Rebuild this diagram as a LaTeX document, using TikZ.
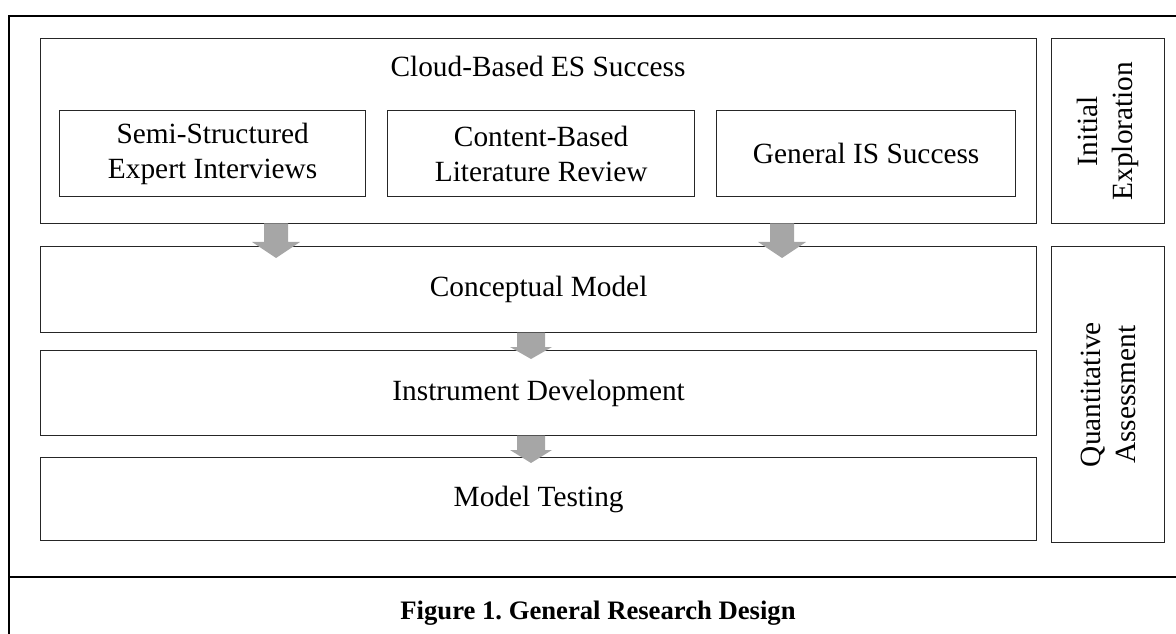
\documentclass[tikz,border=0pt]{standalone}
\usepackage{fontspec}
\setmainfont{Liberation Serif}
\frenchspacing
\begin{document}
\begin{tikzpicture}[x=0.75pt,y=-0.75pt,
  box/.style={draw=black!85, line width=0.95pt, inner sep=0pt, anchor=north west},
  lbl/.style={font=\fontsize{22}{26.4}\selectfont, align=center, inner sep=0pt},
  garrow/.style={fill=black!35, draw=none},
  frame/.style={draw=black, line width=1.6pt}]
\useasboundingbox (0,0) rectangle (1176,634);
% outer frame
\coordinate (fa) at (9,634);
\coordinate (fb) at (9,16);
\coordinate (fc) at (1176,16);
\coordinate (da) at (9,577);
\coordinate (db) at (1176,577);
\draw[frame] (fa) -- (fb) -- (fc);
\draw[frame] (da) -- (db);
% boxes
\node[box, minimum width=747pt, minimum height=138.75pt] (top) at (40,38) {};
\node[box, minimum width=84.75pt, minimum height=138.75pt] (ie) at (1051,38) {};
\node[box, minimum width=229.5pt, minimum height=64.5pt] (s1) at (59,110) {};
\node[box, minimum width=230.25pt, minimum height=64.5pt] (s2) at (387,110) {};
\node[box, minimum width=224.25pt, minimum height=64.5pt] (s3) at (716,110) {};
\node[box, minimum width=747pt, minimum height=64.5pt] (cm) at (40,246) {};
\node[box, minimum width=747pt, minimum height=63.75pt] (id) at (40,350) {};
\node[box, minimum width=747pt, minimum height=62.25pt] (mt) at (40,457) {};
\node[box, minimum width=84.75pt, minimum height=222pt] (qa) at (1051,246) {};
% texts
\node[lbl, anchor=base] (t0) at (538,77) {Cloud-Based ES Success};
\node[lbl] (t1) at (s1.center) {Semi-Structured\\Expert Interviews};
\node[lbl] (t2) at (s2.center) {Content-Based\\Literature Review};
\node[lbl] (t3) at (s3.center) {General IS Success};
\node[lbl] (t4) at (cm.center) {Conceptual Model};
\node[lbl] (t5) at (id.center) {Instrument Development};
\node[lbl] (t6) at (mt.center) {Model Testing};
\node[lbl, rotate=90] (t7) at (ie.center) {Initial\\Exploration};
\node[lbl, rotate=90] (t8) at (qa.center) {Quantitative\\Assessment};
\node[font=\fontsize{20}{24}\selectfont\bfseries, inner sep=0pt, anchor=base] (cap) at (598,619) {Figure 1. General Research Design};
% block arrows
\newcommand\blockarrow[6]{%
  \fill[garrow] (#1-#5,#2) -- (#1+#5,#2) -- (#1+#5,#3) -- (#1+#6,#3) -- (#1,#4) -- (#1-#6,#3) -- (#1-#5,#3) -- cycle;}
\blockarrow{276}{223.5}{242}{258}{12}{24}
\blockarrow{782}{223.5}{242}{258}{12}{24}
\blockarrow{531}{332.5}{347}{359}{14}{21}
\blockarrow{531}{435.5}{450}{463}{14}{21}
\end{tikzpicture}
\end{document}
